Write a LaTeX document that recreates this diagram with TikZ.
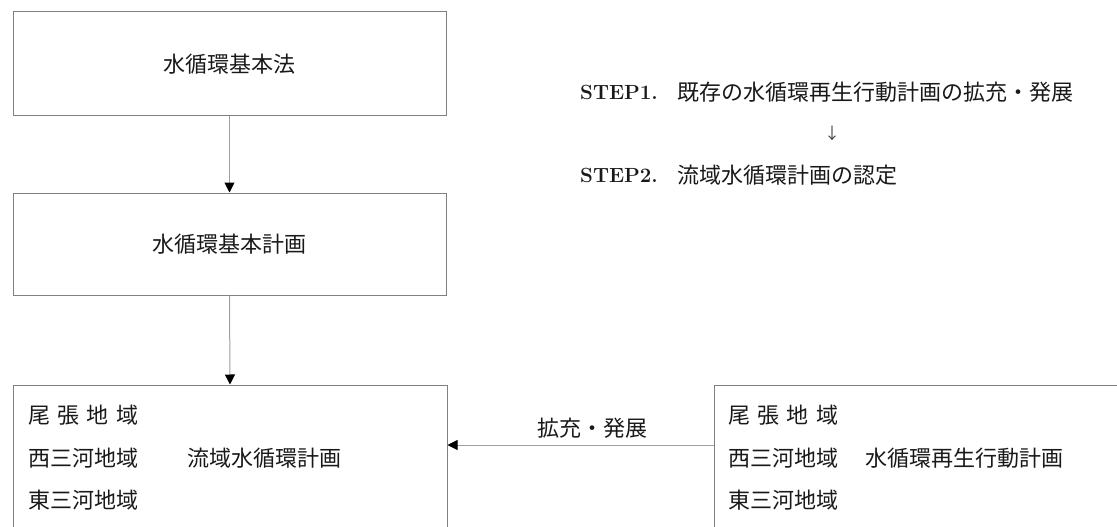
\documentclass[tikz,border=0pt]{standalone}
\usepackage{fontspec}
\newfontfamily\jp{Noto Sans CJK JP}
\usetikzlibrary{arrows.meta}
\definecolor{boxgray}{HTML}{808080}
\definecolor{linegray}{HTML}{A0A0A0}
\tikzset{
  box/.style={draw=boxgray, line width=1pt, rectangle, inner sep=0pt},
  jtxt/.style={font=\jp\fontsize{22}{26}\selectfont, inner sep=0pt, text=black!90},
  steplbl/.style={anchor=west, inner sep=0pt, font=\bfseries\fontsize{20.5}{24}\selectfont, text=black!90},
  arr/.style={draw=linegray, line width=1pt, -{Triangle[length=10pt,width=10pt,color=black]}}
}
\begin{document}
\begin{tikzpicture}[x=1pt,y=-1pt]
\useasboundingbox (0,0) rectangle (1117,527);
\clip (0,0) rectangle (1117,527);
% boxes
\node[box, minimum width=433pt, minimum height=103pt] (law) at (229.5,63.5) {};
\node[jtxt] (lawt) at (229.5,64) {水循環基本法};
\node[box, minimum width=433pt, minimum height=102pt] (plan) at (229.5,244) {};
\node[jtxt] (plant) at (229.5,244) {水循環基本計画};
\node[box, minimum width=434pt, minimum height=240pt] (basin) at (230,505) {};
\node[box, minimum width=500pt, minimum height=240pt] (regen) at (964,505) {};
% texts in basin box
\node[jtxt, anchor=west] (b1) at (28,415) {尾\hspace{7.3pt}張\hspace{7.3pt}地\hspace{7.3pt}域};
\node[jtxt, anchor=west] (b2) at (28,458) {西三河地域};
\node[jtxt, anchor=west] (b3) at (28,500) {東三河地域};
\node[jtxt, anchor=west] (b4) at (187,458) {流域水循環計画};
% texts in regen box
\node[jtxt, anchor=west] (r1) at (728,415) {尾\hspace{7.3pt}張\hspace{7.3pt}地\hspace{7.3pt}域};
\node[jtxt, anchor=west] (r2) at (728,458) {西三河地域};
\node[jtxt, anchor=west] (r3) at (728,500) {東三河地域};
\node[jtxt, anchor=west] (r4) at (865,458) {水循環再生行動計画};
% connectors
\draw[arr] (law.south) -- (plan.north);
\draw[arr] (plan.south) -- (basin.north);
\coordinate (h) at (0,445);
\draw[arr] (regen.west |- h) -- (basin.east |- h);
\node[jtxt] (lbl) at (592,428) {拡充・発展};
% steps
\node[steplbl] (s1) at (580,92) {STEP1.};
\node[jtxt, anchor=west] (s1t) at (677,92) {既存の水循環再生行動計画の拡充・発展};
\node[inner sep=0pt, font=\jp\fontsize{16}{18}\selectfont, text=black!75] (sarr) at (832,133) {↓};
\node[steplbl] (s2) at (580,175) {STEP2.};
\node[jtxt, anchor=west] (s2t) at (677,175) {流域水循環計画の認定};
\end{tikzpicture}
\end{document}
